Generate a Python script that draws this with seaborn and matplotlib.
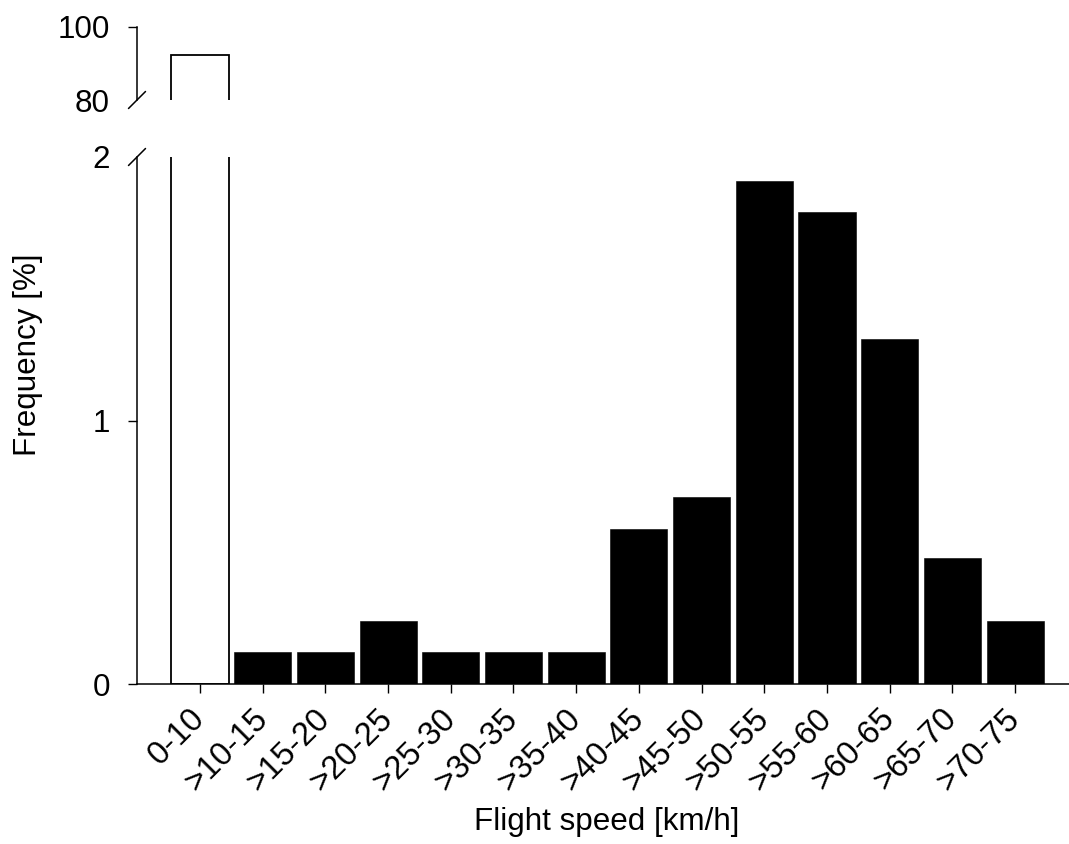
import matplotlib
matplotlib.use("Agg")
import matplotlib.pyplot as plt
import seaborn as sns
import numpy as np
from matplotlib.lines import Line2D

# data
speed_classes = ['0-10', '>10-15', '>15-20', '>20-25', '>25-30', '>30-35', '>35-40',
                 '>40-45', '>45-50', '>50-55', '>55-60', '>60-65', '>65-70', '>70-75']
frequency = [92.2, 0.12, 0.12, 0.24, 0.12, 0.12, 0.12,
             0.59, 0.71, 1.91, 1.79, 1.31, 0.48, 0.24]
bar_colors = ['white'] + ['black'] * 13

sns.set_theme(style='ticks')
plt.rcParams['font.family'] = ['Liberation Sans', 'DejaVu Sans']
plt.rcParams['axes.linewidth'] = 1.1
for key in ['text.color', 'axes.labelcolor', 'xtick.color', 'ytick.color', 'axes.edgecolor']:
    plt.rcParams[key] = 'black'
FS = 22.6
XFS = 23.5

W, H = 1069, 844
fig = plt.figure(figsize=(W / 100, H / 100), dpi=100)

# axes positions in pixels
x0, x1 = 137, 1069
top_ax = fig.add_axes([x0 / W, 1 - 100 / H, (x1 - x0) / W, 73 / H])
bot_ax = fig.add_axes([x0 / W, 1 - 684 / H, (x1 - x0) / W, 527 / H])

for ax in (top_ax, bot_ax):
    sns.barplot(x=speed_classes, y=frequency, hue=speed_classes, palette=bar_colors,
                legend=False, width=0.91, ax=ax, saturation=1)
    for i, p in enumerate(ax.patches):
        p.set_edgecolor('black')
        p.set_linewidth(1.3 if i == 0 else 0.4)
    ax.set_xlim(-1.005, 13.86)
    sns.despine(ax=ax)
    ax.tick_params(axis='both', direction='out', length=6.5, width=1.0,
                   labelsize=FS, pad=13, color='black')
    ax.set_ylabel('')
    ax.set_xlabel('')

# top panel: 80-100
top_ax.set_ylim(80, 100)
top_ax.set_yticks([80, 100])
top_ax.spines['bottom'].set_visible(False)
top_ax.tick_params(axis='x', bottom=False, labelbottom=False)
top_ax.yaxis.get_major_ticks()[0].tick1line.set_visible(False)

# bottom panel: 0-2
bot_ax.set_ylim(0, 2)
bot_ax.set_yticks([0, 1, 2])
bot_ax.yaxis.get_major_ticks()[2].tick1line.set_visible(False)
bot_ax.tick_params(axis='x', pad=15, labelsize=XFS)
plt.setp(bot_ax.get_xticklabels(), rotation=45, ha='right', va='center',
         rotation_mode='anchor')

# break marks
for yc in (100, 157):
    fig.add_artist(Line2D([(x0 - 8.5) / W, (x0 + 8.5) / W],
                          [1 - (yc + 8.5) / H, 1 - (yc - 8.5) / H],
                          transform=fig.transFigure, color='black', lw=1.1))

fig.text(28 / W, 1 - 355 / H, 'Frequency [%]', rotation=90, ha='center', va='center',
         fontsize=FS)
fig.text(607 / W, 1 - 822 / H, 'Flight speed [km/h]', ha='center', va='center',
         fontsize=FS)

fig.savefig('out.png', dpi=100)
